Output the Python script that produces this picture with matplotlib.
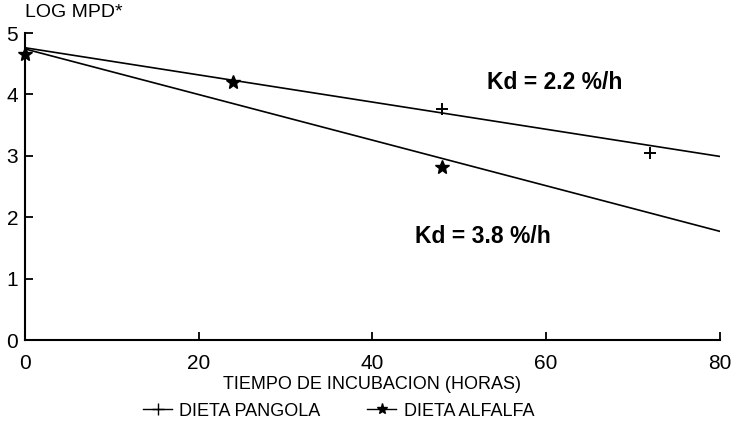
import matplotlib
matplotlib.use("Agg")
import matplotlib.pyplot as plt

plt.rcParams['font.family'] = ['Liberation Sans', 'DejaVu Sans']

# valores
pangola_x = [0, 48, 72]
pangola_y = [4.68, 3.77, 3.04]
alfalfa_x = [0, 24, 48]
alfalfa_y = [4.65, 4.2, 2.82]

fit_x = [0, 80]
pangola_fit = [4.76, 2.99]
alfalfa_fit = [4.74, 1.77]

x_ticks = [0, 20, 40, 60, 80]
y_ticks = [0, 1, 2, 3, 4, 5]

fig = plt.figure(figsize=(7.36, 4.43), dpi=100)
ax = fig.add_axes([0.034, 0.2325, 0.944, 0.693])

ax.plot(fit_x, pangola_fit, color='black', lw=1.2)
ax.plot(fit_x, alfalfa_fit, color='black', lw=1.2)
ax.plot(pangola_x, pangola_y, ls='none', marker='+', ms=9, mew=1.4, color='black', clip_on=False)
ax.plot(alfalfa_x, alfalfa_y, ls='none', marker='*', ms=10, color='black', clip_on=False)

ax.set_xlim(0, 80)
ax.set_ylim(0, 5)
ax.set_xticks(x_ticks)
ax.set_yticks(y_ticks)
ax.spines['top'].set_visible(False)
ax.spines['right'].set_visible(False)
ax.spines['left'].set_linewidth(1.5)
ax.spines['bottom'].set_linewidth(1.5)
ax.tick_params(direction='in', length=6, width=1.3, labelsize=15)
ax.tick_params(axis='x', pad=10)
ax.tick_params(axis='y', pad=5)

ax.set_xlabel('TIEMPO DE INCUBACION (HORAS)', fontsize=13, labelpad=2)
ax.text(0, 5.2, 'LOG MPD*', fontsize=14, ha='left', va='bottom')

ax.text(61, 4.2, 'Kd = 2.2 %/h', fontsize=16.5, fontweight='bold', ha='center', va='center')
ax.text(52.7, 1.69, 'Kd = 3.8 %/h', fontsize=16.5, fontweight='bold', ha='center', va='center')

h1, = ax.plot([], [], color='black', lw=1, marker='+', ms=8)
h2, = ax.plot([], [], color='black', lw=1, marker='*', ms=8)
fig.legend([h1, h2], ['DIETA PANGOLA', 'DIETA ALFALFA'], loc='center',
           bbox_to_anchor=(0.46, 0.072), ncol=2, frameon=False, fontsize=13,
           handlelength=1.6, handletextpad=0.4, columnspacing=2.6)

fig.savefig('out.png', dpi=100)
